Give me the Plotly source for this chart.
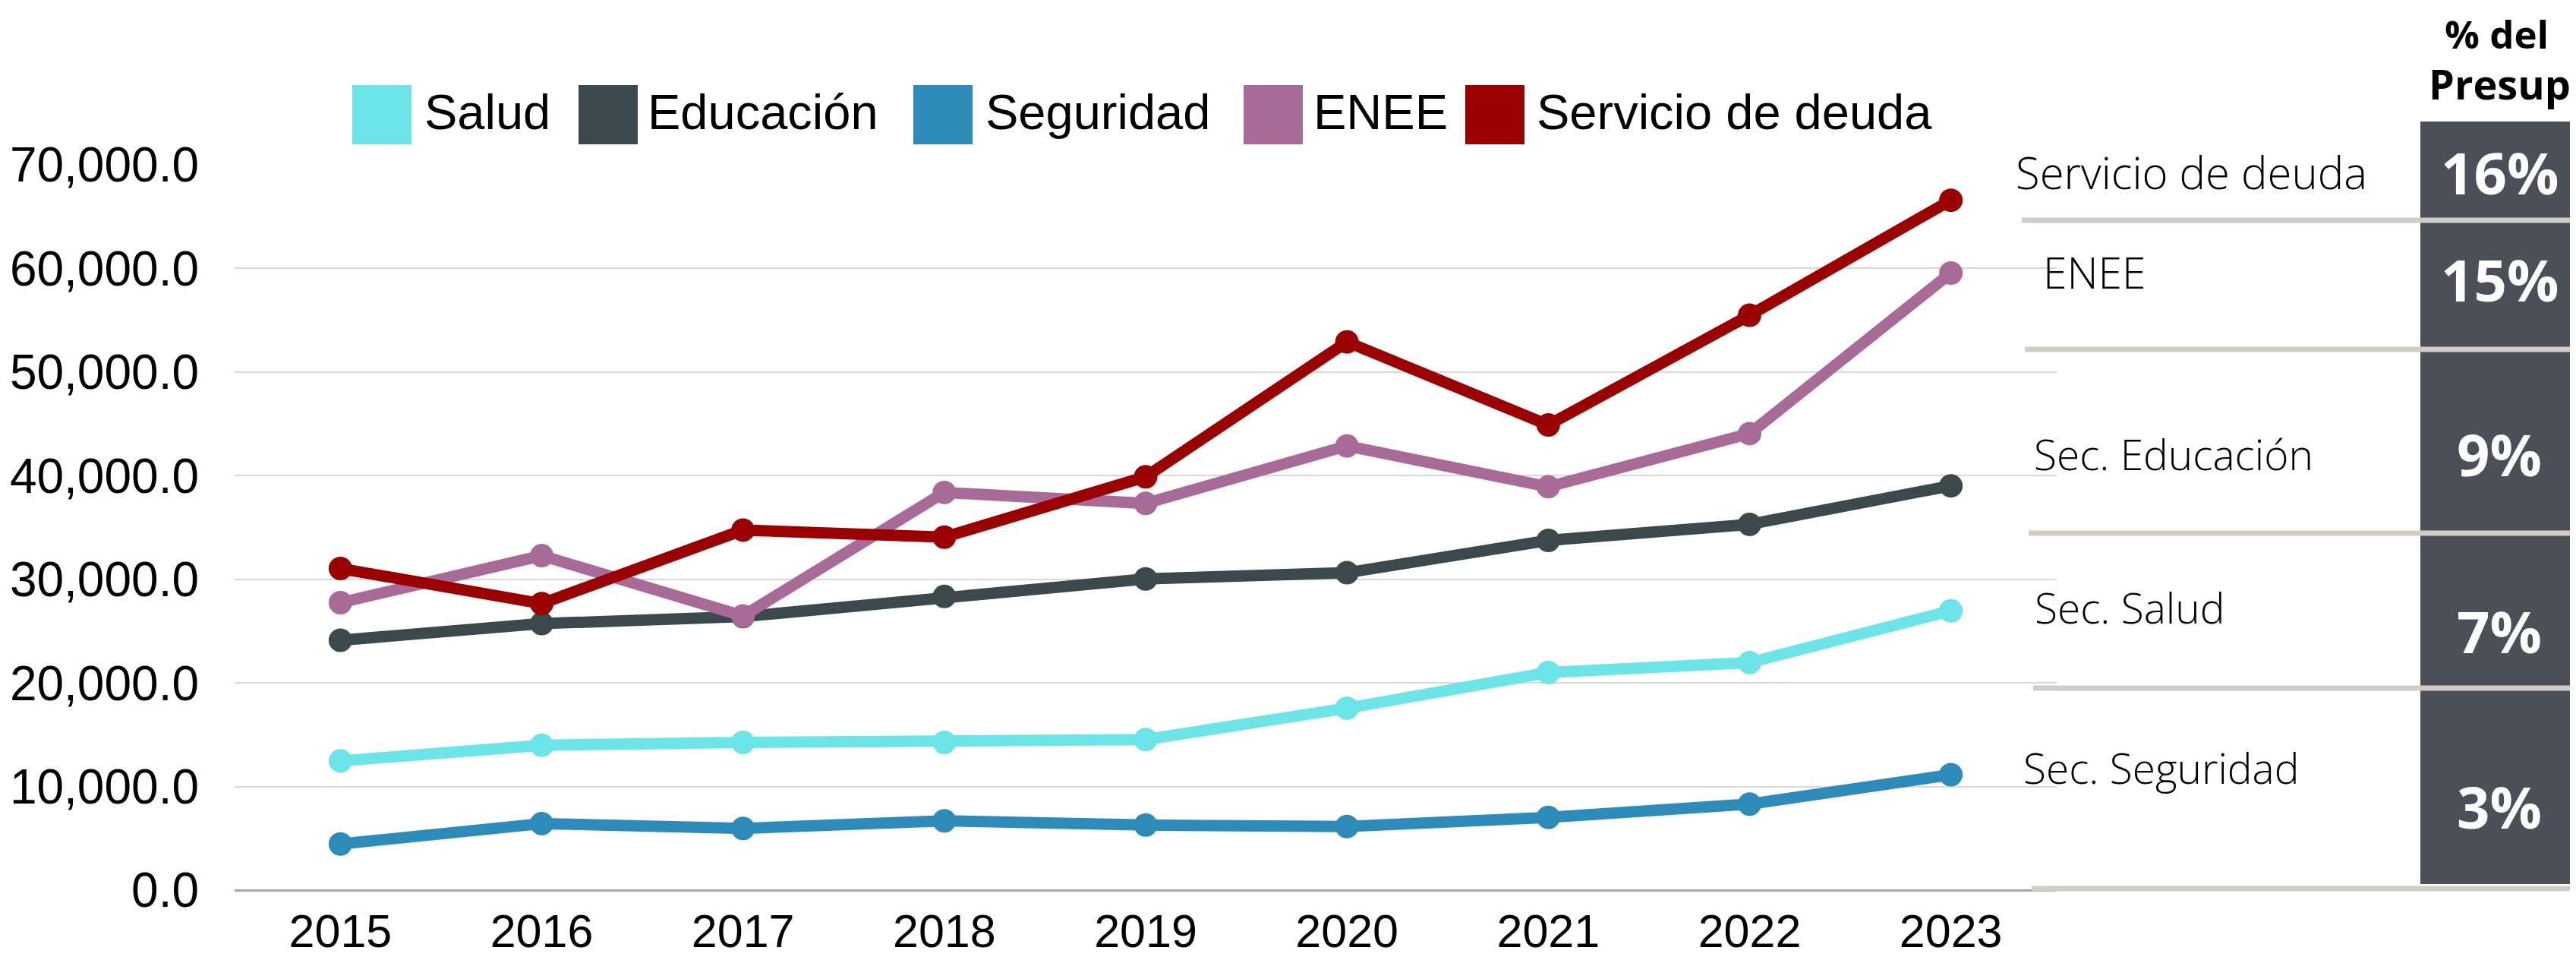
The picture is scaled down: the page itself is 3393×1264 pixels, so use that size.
import plotly.graph_objects as go

# --- data ---
years = ["2015", "2016", "2017", "2018", "2019", "2020", "2021", "2022", "2023"]

salud = [12470, 13980, 14260, 14260, 14530, 17560, 21000, 21960, 26960]
educacion = [24120, 25720, 26400, 28340, 30030, 30630, 33750, 35300, 39020]
seguridad = [4450, 6420, 5960, 6690, 6280, 6140, 7020, 8300, 11140]
enee = [27740, 32280, 26460, 38380, 37320, 42870, 38930, 44060, 59560]
servicio_deuda = [31040, 27650, 34750, 34070, 39890, 52910, 44890, 55480, 66580]

series_names = ["Salud", "Educación", "Seguridad", "ENEE", "Servicio de deuda"]
series_values = [salud, educacion, seguridad, enee, servicio_deuda]
series_colors = ["#6ce5e8", "#3b484c", "#2d8bba", "#a86b98", "#9a0000"]

panel_labels = ["Servicio de deuda", "ENEE", "Sec. Educación", "Sec. Salud", "Sec. Seguridad"]
panel_shares = ["16%", "15%", "9%", "7%", "3%"]
panel_header = ["% del", "Presup"]

# --- geometry: targets are in screen pixels; the page body adds an 8px offset ---
SCREEN_W, SCREEN_H = 3393, 1264
OFF = 8
W, H = SCREEN_W - OFF, SCREEN_H - OFF
L, R, T, B = 309 - OFF, 2709 - OFF, 217 - OFF, 1172 - OFF


def px(x):
    return (x - OFF - L) / (R - L)


def py(y):
    return (B - (y - OFF)) / (B - T)


AXIS_FONT = "Liberation Sans, Arial, sans-serif"
LABEL_FONT = "Open Sans, sans-serif"

fig = go.Figure()

for name, vals, color in zip(series_names, series_values, series_colors):
    fig.add_trace(
        go.Scatter(
            x=years,
            y=vals,
            name=name,
            mode="lines+markers",
            line=dict(color=color, width=15),
            marker=dict(color=color, size=31),
            cliponaxis=False,
            showlegend=False,
        )
    )

shapes = []
annotations = []

# legend drawn by hand: big squares + labels
legend_square_x = [464, 762, 1203, 1638, 1930]
legend_text_x = [557, 851, 1296, 1728, 2022]
for name, color, sx, tx in zip(series_names, series_colors, legend_square_x, legend_text_x):
    shapes.append(dict(
        type="rect", xref="paper", yref="paper",
        x0=px(sx), x1=px(sx + 78), y0=py(190), y1=py(112),
        fillcolor=color, line=dict(width=0),
    ))
    annotations.append(dict(
        xref="paper", yref="paper", x=px(tx), y=py(147),
        xanchor="left", yanchor="middle", showarrow=False,
        text=name, font=dict(family=AXIS_FONT, size=65, color="black"),
    ))

# right-hand panel
shapes.append(dict(
    type="rect", xref="paper", yref="paper",
    x0=px(3188), x1=px(SCREEN_W + 5), y0=py(1164), y1=py(160),
    fillcolor="#4a4f58", line=dict(width=0), layer="below",
))
sep_y = [290, 460, 702, 906, 1170]
sep_x0 = [2663, 2667, 2672, 2678, 2676]
for y, x0 in zip(sep_y, sep_x0):
    shapes.append(dict(
        type="line", xref="paper", yref="paper",
        x0=px(x0), x1=px(SCREEN_W + 5), y0=py(y), y1=py(y),
        line=dict(color="#d1ccc5", width=7),
    ))

label_y = [226, 358, 597, 799, 1010]
label_x = [2653, 2689, 2677, 2678, 2663]
label_size = [58, 57, 55, 55, 55]
share_y = [226, 367, 597, 830, 1061]
for lab, share, ly, lx, ls, sy in zip(panel_labels, panel_shares, label_y, label_x, label_size, share_y):
    annotations.append(dict(
        xref="paper", yref="paper", x=px(lx), y=py(ly),
        xanchor="left", yanchor="middle", showarrow=False,
        text=lab, font=dict(family=LABEL_FONT, size=ls, color="black", weight=300),
    ))
    annotations.append(dict(
        xref="paper", yref="paper", x=px(3292), y=py(sy),
        xanchor="center", yanchor="middle", showarrow=False,
        text=share, font=dict(family=LABEL_FONT, size=76, color="white", weight=700),
    ))

for txt, hy, hx, hs in zip(panel_header, [44, 110], [3288, 3292], [51, 54]):
    annotations.append(dict(
        xref="paper", yref="paper", x=px(hx), y=py(hy),
        xanchor="center", yanchor="middle", showarrow=False,
        text=txt, font=dict(family=LABEL_FONT, size=hs, color="black", weight=700),
    ))

fig.update_layout(
    width=W,
    height=H,
    margin=dict(l=L, r=W - R, t=T, b=H - B, pad=0, autoexpand=False),
    paper_bgcolor="white",
    plot_bgcolor="white",
    showlegend=False,
    shapes=shapes,
    annotations=annotations,
    font=dict(family=AXIS_FONT, color="black"),
)

fig.update_xaxes(
    type="category",
    automargin=False,
    showgrid=False,
    showline=False,
    ticks="",
    tickfont=dict(family=AXIS_FONT, size=61, color="black"),
    ticklabelstandoff=13,
)

fig.update_yaxes(
    range=[0, 70000],
    dtick=10000,
    tickformat=",.1f",
    automargin=False,
    showgrid=True,
    gridcolor="#d9d9d9",
    gridwidth=2,
    zeroline=True,
    zerolinecolor="#a6a6a6",
    zerolinewidth=3,
    showline=False,
    ticks="",
    tickfont=dict(family=AXIS_FONT, size=64, color="black"),
    ticklabelstandoff=46,
)

fig.write_html("out.html")
